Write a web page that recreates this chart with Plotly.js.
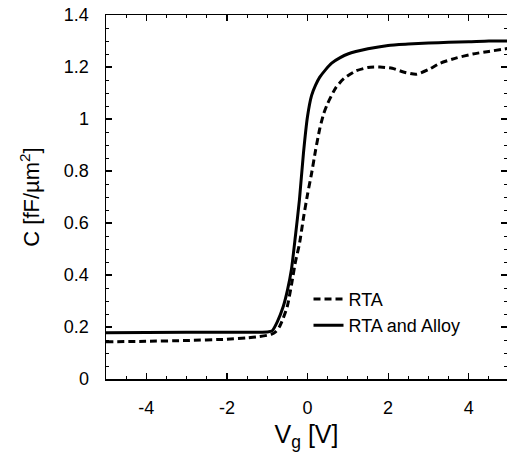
<!DOCTYPE html>
<html>
<head>
<meta charset="utf-8">
<script src="https://cdn.plot.ly/plotly-3.0.1.min.js"></script>
<style>html,body{margin:0;padding:0;background:#fff;}#chart{width:507px;height:457px;}</style>
</head>
<body>
<div id="chart"></div>
<script>
// RTA (dashed)
const vgRTA = [-5, -4, -3, -2, -1.5, -1.2, -1.0, -0.9, -0.8, -0.7, -0.6, -0.5, -0.4, -0.3, -0.2, -0.1, 0, 0.1, 0.2, 0.3, 0.4, 0.5, 0.7, 0.9, 1.2, 1.5, 1.8, 2.1, 2.4, 2.7, 3.0, 3.3, 3.7, 4.1, 4.5, 5];
const cRTA  = [0.143, 0.145, 0.148, 0.153, 0.158, 0.163, 0.168, 0.172, 0.18, 0.2, 0.235, 0.28, 0.36, 0.45, 0.52, 0.62, 0.71, 0.79, 0.88, 0.96, 1.02, 1.06, 1.12, 1.155, 1.185, 1.198, 1.2, 1.195, 1.18, 1.172, 1.19, 1.215, 1.235, 1.25, 1.26, 1.272];
// RTA and Alloy (solid)
const vgAlloy = [-5, -3, -1.5, -1.0, -0.88, -0.75, -0.6, -0.5, -0.4, -0.3, -0.2, -0.1, 0, 0.1, 0.2, 0.3, 0.45, 0.6, 0.8, 1.0, 1.5, 2, 2.5, 3, 3.5, 4, 4.5, 5];
const cAlloy  = [0.178, 0.18, 0.18, 0.181, 0.185, 0.22, 0.28, 0.34, 0.42, 0.55, 0.69, 0.87, 1.01, 1.09, 1.13, 1.16, 1.19, 1.215, 1.235, 1.25, 1.27, 1.283, 1.288, 1.292, 1.295, 1.297, 1.3, 1.3];

const seriesNames = ['RTA', 'RTA and Alloy'];
const xTickVals = [-4, -2, 0, 2, 4];
const xTickText = ['-4', '-2', '0', '2', '4'];
const yTickVals = [0, 0.2, 0.4, 0.6, 0.8, 1, 1.2, 1.4];
const yTickText = ['0', '0.2', '0.4', '0.6', '0.8', '1', '1.2', '1.4'];

const font = 'Arial, "Liberation Sans", sans-serif';

const traces = [
  {x: vgRTA, y: cRTA, name: seriesNames[0], mode: 'lines',
   line: {color: '#000', width: 3, dash: '7px,4px', shape: 'spline', smoothing: 0.6}},
  {x: vgAlloy, y: cAlloy, name: seriesNames[1], mode: 'lines',
   line: {color: '#000', width: 3, shape: 'spline', smoothing: 0.6}}
];

const layout = {
  width: 507, height: 457,
  margin: {l: 106, r: 0, t: 15, b: 78},
  paper_bgcolor: '#fff', plot_bgcolor: '#fff',
  font: {family: font, color: '#000', size: 18},
  showlegend: true,
  legend: {x: 0.505, y: 0.27, xanchor: 'left', yanchor: 'top', bgcolor: 'rgba(0,0,0,0)',
           font: {family: font, size: 18, color: '#000'}, tracegroupgap: 0, itemwidth: 30},
  xaxis: {
    range: [-5, 4.95], showgrid: false, zeroline: false,
    showline: true, linecolor: '#000', linewidth: 1.5, mirror: 'ticks',
    ticks: 'inside', ticklen: 6, tickwidth: 1.2, tickcolor: '#000',
    tickmode: 'array', tickvals: xTickVals, ticktext: xTickText,
    tickfont: {family: font, size: 18, color: '#000'}, ticklabelstandoff: 12,
    minor: {ticks: 'inside', dtick: 0.5, ticklen: 3, tickcolor: '#000', tickwidth: 1, showgrid: false},
    title: {text: 'V<sub>g</sub> [V]', font: {family: font, size: 25, color: '#000'}, standoff: 8}
  },
  yaxis: {
    range: [0, 1.4], showgrid: false, zeroline: false,
    showline: true, linecolor: '#000', linewidth: 1.5, mirror: 'ticks',
    ticks: 'inside', ticklen: 6, tickwidth: 1.2, tickcolor: '#000',
    tickmode: 'array', tickvals: yTickVals, ticktext: yTickText,
    tickfont: {family: font, size: 18, color: '#000'}, ticklabelstandoff: 12,
    minor: {ticks: 'inside', dtick: 0.05, ticklen: 3, tickcolor: '#000', tickwidth: 1, showgrid: false},
    title: {text: 'C [fF/µm<sup>2</sup>]', font: {family: font, size: 22, color: '#000'}, standoff: 18}
  }
};

Plotly.newPlot('chart', traces, layout, {staticPlot: true, displayModeBar: false});
</script>
</body>
</html>
